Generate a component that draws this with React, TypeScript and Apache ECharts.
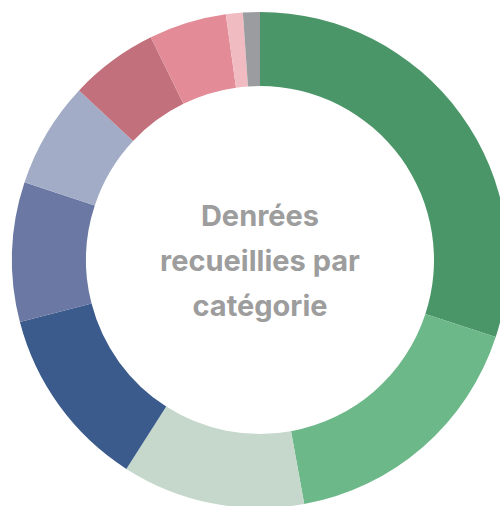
import React, { useEffect, useRef } from "react";
import * as echarts from "echarts";

const categories = [
  "Fruits et légumes",
  "Produits laitiers",
  "Pain et céréales",
  "Conserves",
  "Viandes et poissons",
  "Pâtes et riz",
  "Boissons",
  "Produits d'hygiène",
  "Épicerie sucrée",
  "Autres",
];
const values = [30, 17.1, 11.9, 11.9, 9.1, 6.9, 5.75, 5.05, 1.1, 1.1];
const colors = [
  "#4b9668",
  "#6cb889",
  "#c5d8cb",
  "#3a5b8c",
  "#6a78a3",
  "#a3acc6",
  "#c2707c",
  "#e38b96",
  "#f0bcc1",
  "#9a9ca0",
];
const centerTitle = "Denrées\nrecueillies par\ncatégorie";

export default function App() {
  const ref = useRef<HTMLDivElement>(null);
  useEffect(() => {
    document.body.style.margin = "0";
    if (!ref.current) return;
    const chart = echarts.init(ref.current, null, { renderer: "svg" });
    chart.setOption({
      animation: false,
      graphic: [
        {
          type: "text",
          x: 260,
          y: 260,
          style: {
            text: centerTitle,
            align: "center",
            verticalAlign: "middle",
            fill: "#9d9d9d",
            font: "700 29px Inter",
            lineHeight: 45,
          },
        },
      ],
      series: [
        {
          type: "pie",
          center: [260, 260],
          radius: [174, 248],
          startAngle: 90,
          clockwise: true,
          label: { show: false },
          labelLine: { show: false },
          itemStyle: { borderWidth: 0 },
          emphasis: { disabled: true },
          data: categories.map((name, i) => ({
            name,
            value: values[i],
            itemStyle: { color: colors[i] },
          })),
        },
      ],
    });
    return () => chart.dispose();
  }, []);
  return <div ref={ref} style={{ width: 500, height: 506 }} />;
}
